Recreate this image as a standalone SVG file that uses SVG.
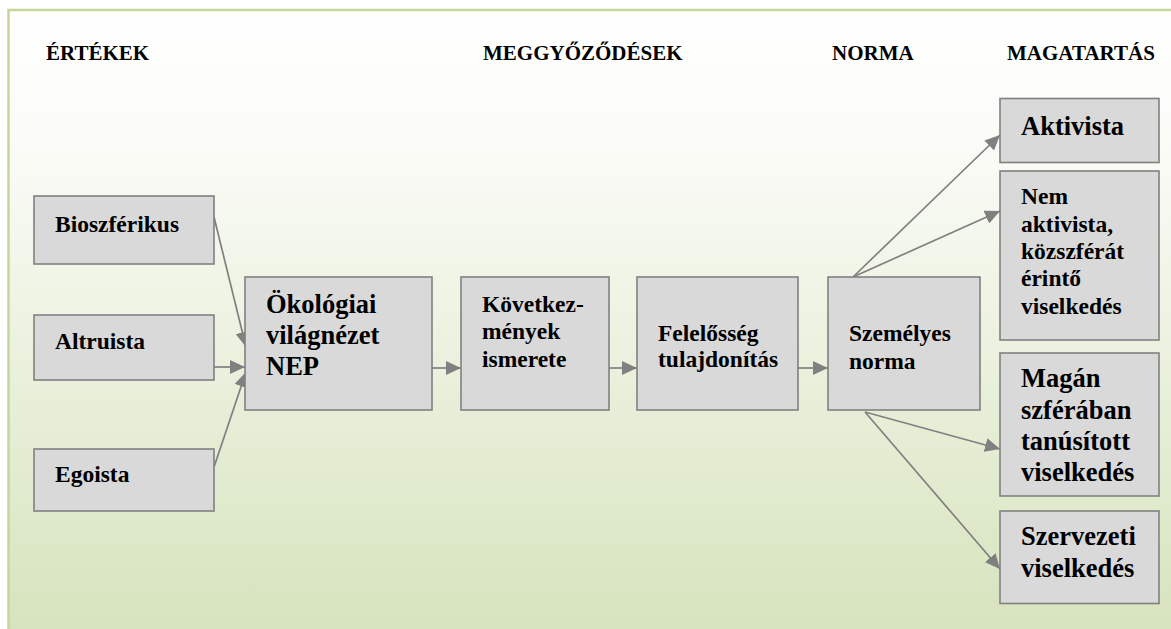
<svg xmlns="http://www.w3.org/2000/svg" width="1171" height="629" viewBox="0 0 1171 629">
<defs>
<linearGradient id="bg" x1="0" y1="0" x2="0" y2="1">
<stop offset="0" stop-color="#ffffff"/>
<stop offset="0.2" stop-color="#fbfcf8"/>
<stop offset="1" stop-color="#d6e3bc"/>
</linearGradient>
<marker id="ah" viewBox="0 0 15 14" refX="15" refY="7" markerWidth="15" markerHeight="14" markerUnits="userSpaceOnUse" orient="auto">
<path d="M0,0 L15,7 L0,14 Z" fill="#808080"/>
</marker>
<style>
.box{fill:#d9d9d9;stroke:#808080;stroke-width:1.6}
.t{font-family:"Liberation Serif","Times New Roman",serif;font-weight:bold;fill:#000}
.h{font-size:21px}
.s{font-size:23.5px}
.l{font-size:26.5px}
.c{stroke:#808080;stroke-width:1.7;fill:none;marker-end:url(#ah)}
</style>
</defs>
<rect x="8.5" y="10" width="1175" height="630" fill="url(#bg)" stroke="#c3d69b" stroke-width="2.5"/>
<g id="headers">
<text class="t h" x="46" y="60">ÉRTÉKEK</text>
<text class="t h" x="483" y="60">MEGGYŐZŐDÉSEK</text>
<text class="t h" x="832" y="60">NORMA</text>
<text class="t h" x="1007" y="60">MAGATARTÁS</text>
</g>
<g id="connectors">
<line class="c" x1="214" y1="217" x2="246" y2="347"/>
<line class="c" x1="214" y1="367" x2="245" y2="367"/>
<line class="c" x1="214" y1="467" x2="246" y2="372"/>
<line class="c" x1="432" y1="368" x2="461" y2="368"/>
<line class="c" x1="609" y1="368" x2="637" y2="368"/>
<line class="c" x1="798" y1="368" x2="828" y2="368"/>
<line class="c" x1="853" y1="277" x2="1000" y2="135"/>
<line class="c" x1="853" y1="277" x2="1000" y2="211"/>
<line class="c" x1="865" y1="412" x2="1000" y2="449"/>
<line class="c" x1="865" y1="412" x2="1000" y2="569"/>
</g>
<g id="bioszferikus">
<rect class="box" x="34" y="196" width="180" height="68"/>
<text class="t s" x="55" y="232">Bioszférikus</text>
</g>
<g id="altruista">
<rect class="box" x="34" y="315" width="180" height="65"/>
<text class="t s" x="55" y="349">Altruista</text>
</g>
<g id="egoista">
<rect class="box" x="34" y="449" width="180" height="62"/>
<text class="t s" x="55" y="482">Egoista</text>
</g>
<g id="okologiai">
<rect class="box" x="245" y="277" width="187" height="133"/>
<text class="t l" x="266" y="313">Ökológiai</text>
<text class="t l" x="266" y="344">világnézet</text>
<text class="t l" x="266" y="374.5">NEP</text>
</g>
<g id="kovetkezmenyek">
<rect class="box" x="461" y="277" width="148" height="133"/>
<text class="t s" x="482" y="312">Következ-</text>
<text class="t s" x="482" y="339">mények</text>
<text class="t s" x="482" y="366.5">ismerete</text>
</g>
<g id="felelosseg">
<rect class="box" x="637" y="277" width="161" height="133"/>
<text class="t s" x="658" y="341">Felelősség</text>
<text class="t s" x="658" y="367">tulajdonítás</text>
</g>
<g id="szemelyes">
<rect class="box" x="828" y="277" width="152" height="133"/>
<text class="t s" x="849" y="341">Személyes</text>
<text class="t s" x="849" y="368.5">norma</text>
</g>
<g id="aktivista">
<rect class="box" x="1000" y="98.5" width="159" height="64"/>
<text class="t l" x="1021" y="135">Aktivista</text>
</g>
<g id="nemaktivista">
<rect class="box" x="1000" y="171" width="159" height="169"/>
<text class="t s" x="1021" y="204">Nem</text>
<text class="t s" x="1021" y="231.5">aktivista,</text>
<text class="t s" x="1021" y="259">közszférát</text>
<text class="t s" x="1021" y="286">érintő</text>
<text class="t s" x="1021" y="313.5">viselkedés</text>
</g>
<g id="magan">
<rect class="box" x="1000" y="353" width="159" height="143"/>
<text class="t l" x="1021" y="387">Magán</text>
<text class="t l" x="1021" y="419">szférában</text>
<text class="t l" x="1021" y="449.5">tanúsított</text>
<text class="t l" x="1021" y="481">viselkedés</text>
</g>
<g id="szervezeti">
<rect class="box" x="1000" y="511" width="159" height="92.5"/>
<text class="t l" x="1021" y="545">Szervezeti</text>
<text class="t l" x="1021" y="577">viselkedés</text>
</g>
</svg>
